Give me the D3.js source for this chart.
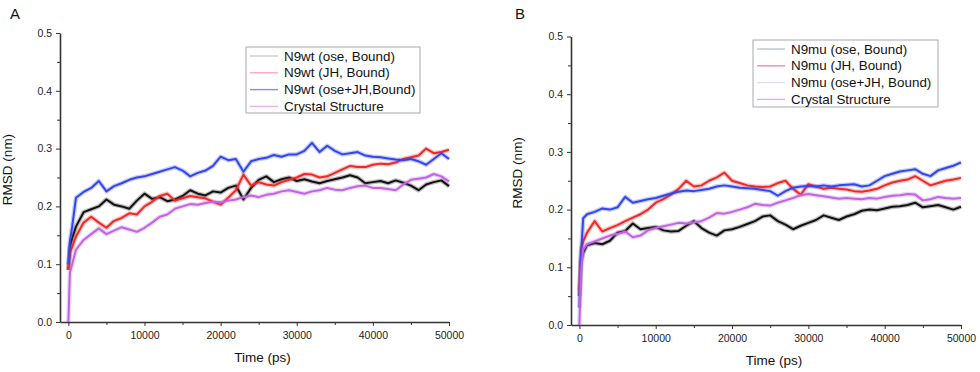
<!DOCTYPE html>
<html>
<head>
<meta charset="utf-8">
<script src="https://cdn.jsdelivr.net/npm/d3@7"></script>
<style>
  body { margin: 0; background: #fff; }
  svg { font-family: "Liberation Sans", Arial, sans-serif; }
  .axis path, .axis line { stroke: #333; }
  .axis text { fill: #222; font-size: 10.5px; }
</style>
</head>
<body>
<svg id="chart" width="980" height="372"></svg>
<script>
// time points (ps)
const times = [0, 200, 500, 1000, 2000, 3000, 4000, 5000, 6000, 7000, 8000, 9000, 10000,
  11000, 12000, 13000, 14000, 15000, 16000, 17000, 18000, 19000, 20000,
  21000, 22000, 23000, 24000, 25000, 26000, 27000, 28000, 29000, 30000,
  31000, 32000, 33000, 34000, 35000, 36000, 37000, 38000, 39000, 40000,
  41000, 42000, 43000, 44000, 45000, 46000, 47000, 48000, 49000, 50000];

// panel A (wild type)
const aOse = [0.09, 0.13, 0.145, 0.165, 0.19, 0.195, 0.2, 0.212, 0.203, 0.2, 0.196, 0.21, 0.222,
  0.213, 0.216, 0.209, 0.212, 0.218, 0.228, 0.222, 0.219, 0.226, 0.224,
  0.232, 0.236, 0.212, 0.232, 0.246, 0.252, 0.242, 0.247, 0.25, 0.244,
  0.247, 0.243, 0.24, 0.244, 0.247, 0.25, 0.254, 0.25, 0.24, 0.242,
  0.244, 0.24, 0.245, 0.241, 0.236, 0.228, 0.238, 0.242, 0.245, 0.235];
const aJH = [0.09, 0.12, 0.13, 0.148, 0.172, 0.182, 0.172, 0.163, 0.175, 0.18, 0.188, 0.186, 0.2,
  0.208, 0.218, 0.222, 0.21, 0.214, 0.218, 0.216, 0.214, 0.208, 0.203,
  0.215, 0.228, 0.255, 0.236, 0.242, 0.238, 0.236, 0.242, 0.246, 0.25,
  0.256, 0.255, 0.25, 0.252, 0.258, 0.264, 0.27, 0.268, 0.268, 0.272,
  0.274, 0.273, 0.276, 0.282, 0.285, 0.288, 0.3, 0.292, 0.294, 0.298];
const aBoth = [0.1, 0.14, 0.165, 0.215, 0.225, 0.232, 0.244, 0.226, 0.235, 0.24, 0.246, 0.25, 0.252,
  0.256, 0.26, 0.264, 0.268, 0.262, 0.252, 0.258, 0.262, 0.27, 0.286,
  0.28, 0.282, 0.26, 0.278, 0.282, 0.284, 0.289, 0.286, 0.29, 0.29,
  0.296, 0.31, 0.294, 0.305, 0.296, 0.29, 0.292, 0.294, 0.288, 0.286,
  0.285, 0.283, 0.281, 0.28, 0.282, 0.278, 0.272, 0.282, 0.292, 0.282];
const aCrystal = [0.0, 0.085, 0.1, 0.125, 0.142, 0.152, 0.162, 0.152, 0.158, 0.164, 0.16, 0.156, 0.163,
  0.172, 0.182, 0.186, 0.196, 0.2, 0.204, 0.203, 0.206, 0.208, 0.207,
  0.21, 0.212, 0.216, 0.219, 0.216, 0.22, 0.222, 0.226, 0.228, 0.225,
  0.222, 0.226, 0.228, 0.232, 0.229, 0.228, 0.232, 0.235, 0.236, 0.232,
  0.232, 0.23, 0.228, 0.238, 0.246, 0.248, 0.25, 0.256, 0.252, 0.243];

// panel B (mutant)
const bOse = [0.05, 0.11, 0.125, 0.138, 0.142, 0.14, 0.146, 0.16, 0.163, 0.176, 0.166, 0.168, 0.17,
  0.164, 0.162, 0.163, 0.172, 0.18, 0.168, 0.16, 0.155, 0.164, 0.166,
  0.17, 0.175, 0.18, 0.188, 0.19, 0.18, 0.174, 0.166, 0.172, 0.177,
  0.182, 0.19, 0.186, 0.182, 0.188, 0.192, 0.198, 0.2, 0.199, 0.202,
  0.205, 0.206, 0.208, 0.212, 0.204, 0.206, 0.208, 0.204, 0.2, 0.205];
const bJH = [0.06, 0.13, 0.145, 0.16, 0.18, 0.162, 0.168, 0.173, 0.18, 0.186, 0.192, 0.2, 0.212,
  0.218, 0.226, 0.236, 0.25, 0.24, 0.242, 0.25, 0.256, 0.264, 0.25,
  0.246, 0.242, 0.24, 0.239, 0.24, 0.246, 0.25, 0.236, 0.226, 0.244,
  0.24, 0.236, 0.238, 0.236, 0.235, 0.232, 0.231, 0.233, 0.236, 0.242,
  0.247, 0.25, 0.252, 0.258, 0.25, 0.242, 0.246, 0.25, 0.252, 0.255];
const bBoth = [0.03, 0.12, 0.185, 0.192, 0.196, 0.202, 0.2, 0.204, 0.222, 0.212, 0.215, 0.218, 0.22,
  0.224, 0.228, 0.231, 0.233, 0.232, 0.234, 0.236, 0.24, 0.242, 0.24,
  0.238, 0.237, 0.236, 0.234, 0.232, 0.224, 0.232, 0.238, 0.24, 0.241,
  0.24, 0.242, 0.24, 0.242, 0.243, 0.244, 0.24, 0.242, 0.25, 0.258,
  0.262, 0.266, 0.268, 0.27, 0.262, 0.258, 0.268, 0.272, 0.276, 0.282];
const bCrystal = [0.0, 0.09, 0.13, 0.14, 0.145, 0.15, 0.155, 0.158, 0.162, 0.152, 0.155, 0.164, 0.168,
  0.171, 0.174, 0.177, 0.176, 0.178, 0.18, 0.186, 0.194, 0.193, 0.196,
  0.2, 0.204, 0.21, 0.208, 0.207, 0.212, 0.216, 0.22, 0.225, 0.227,
  0.225, 0.223, 0.221, 0.219, 0.22, 0.219, 0.218, 0.22, 0.219, 0.222,
  0.224, 0.225, 0.227, 0.226, 0.216, 0.218, 0.222, 0.22, 0.219, 0.22];

const legendA = ['N9wt (ose, Bound)', 'N9wt (JH, Bound)', 'N9wt (ose+JH,Bound)', 'Crystal Structure'];
const legendB = ['N9mu (ose, Bound)', 'N9mu (JH, Bound)', 'N9mu (ose+JH, Bound)', 'Crystal Structure'];

const xTicks = [0, 10000, 20000, 30000, 40000, 50000];
const xMinor = [5000, 15000, 25000, 35000, 45000];
const yTicks = [0, 0.1, 0.2, 0.3, 0.4, 0.5];
const yMinor = [0.05, 0.15, 0.25, 0.35, 0.45];

const lineColours = ['#111111', '#f02828', '#3346ee', '#c064e4'];

const svg = d3.select('#chart');

function drawPanel(p) {
  const g = svg.append('g');

  const x = d3.scaleLinear().domain([-1100, 50000]).range([p.left, p.right]);
  const y = d3.scaleLinear().domain([0, 0.5]).range([p.bottom, p.top]);

  // minor ticks
  g.append('g')
    .attr('class', 'axis')
    .attr('transform', `translate(0, ${p.bottom})`)
    .call(d3.axisBottom(x).tickValues(xMinor).tickSize(3).tickFormat(''))
    .select('.domain').remove();
  g.append('g')
    .attr('class', 'axis')
    .attr('transform', `translate(${p.left}, 0)`)
    .call(d3.axisLeft(y).tickValues(yMinor).tickSize(3).tickFormat(''))
    .select('.domain').remove();

  const xAxis = g.append('g')
    .attr('class', 'axis')
    .attr('transform', `translate(0, ${p.bottom})`)
    .call(d3.axisBottom(x).tickValues(xTicks).tickSize(4).tickSizeOuter(0).tickPadding(6)
      .tickFormat(d3.format('d')));
  xAxis.select('.domain').attr('stroke-width', 1.3);

  const yAxis = g.append('g')
    .attr('class', 'axis')
    .attr('transform', `translate(${p.left}, 0)`)
    .call(d3.axisLeft(y).tickValues(yTicks).tickSize(4).tickSizeOuter(0).tickPadding(4)
      .tickFormat(d3.format('.1f')));
  yAxis.select('.domain').attr('stroke', '#777').attr('stroke-width', 1.6);

  const line = d3.line()
    .x((d, i) => x(times[i]))
    .y(d => y(d));

  // fuzzy band + core line, like the noisy trajectories
  p.series.forEach((s, i) => {
    g.append('path')
      .attr('d', line(s))
      .attr('fill', 'none')
      .attr('stroke', lineColours[i])
      .attr('stroke-opacity', 0.28)
      .attr('stroke-width', 4.5)
      .attr('stroke-linejoin', 'round');
    g.append('path')
      .attr('d', line(s))
      .attr('fill', 'none')
      .attr('stroke', lineColours[i])
      .attr('stroke-width', 2)
      .attr('stroke-linejoin', 'round');
  });

  // axis titles
  g.append('text')
    .attr('x', (p.left + p.right) / 2 + 8)
    .attr('y', p.bottom + 40)
    .attr('text-anchor', 'middle')
    .attr('font-size', '13.5px')
    .attr('fill', '#111')
    .text('Time (ps)');
  g.append('text')
    .attr('transform', `translate(${p.ylabelX}, ${(p.top + p.bottom) / 2 - 8}) rotate(-90)`)
    .attr('text-anchor', 'middle')
    .attr('font-size', '13.5px')
    .attr('fill', '#111')
    .text('RMSD (nm)');

  // panel letter
  g.append('text')
    .attr('x', p.letterX)
    .attr('y', 19)
    .attr('font-size', '15px')
    .attr('fill', '#111')
    .text(p.letter);

  // legend
  const lg = g.append('g').attr('transform', `translate(${p.legend.x}, ${p.legend.y})`);
  lg.append('rect')
    .attr('width', p.legend.w)
    .attr('height', p.legend.h)
    .attr('fill', '#fff')
    .attr('stroke', '#aaa')
    .attr('stroke-width', 1);
  p.labels.forEach((t, i) => {
    const ry = 9 + i * 16.8;
    lg.append('line')
      .attr('x1', 4).attr('x2', 32)
      .attr('y1', ry).attr('y2', ry)
      .attr('stroke', p.legendColours[i])
      .attr('stroke-width', 1.4);
    lg.append('text')
      .attr('x', 38)
      .attr('y', ry + 4.5)
      .attr('font-size', '13.4px')
      .attr('fill', '#111')
      .text(t);
  });
}

drawPanel({
  left: 60, right: 449, top: 33, bottom: 322,
  ylabelX: 12, letterX: 10, letter: 'A',
  series: [aOse, aJH, aBoth, aCrystal],
  labels: legendA,
  legendColours: ['#c6ced6', '#f6a6bf', '#8c8cd2', '#f0b2e2'],
  legend: { x: 246, y: 47, w: 174, h: 66 }
});

drawPanel({
  left: 571, right: 961, top: 36.5, bottom: 325,
  ylabelX: 522, letterX: 515, letter: 'B',
  series: [bOse, bJH, bBoth, bCrystal],
  labels: legendB,
  legendColours: ['#b8c4c8', '#f08aa8', '#dedef4', '#f0a8e0'],
  legend: { x: 753, y: 40, w: 185, h: 67 }
});
</script>
</body>
</html>
